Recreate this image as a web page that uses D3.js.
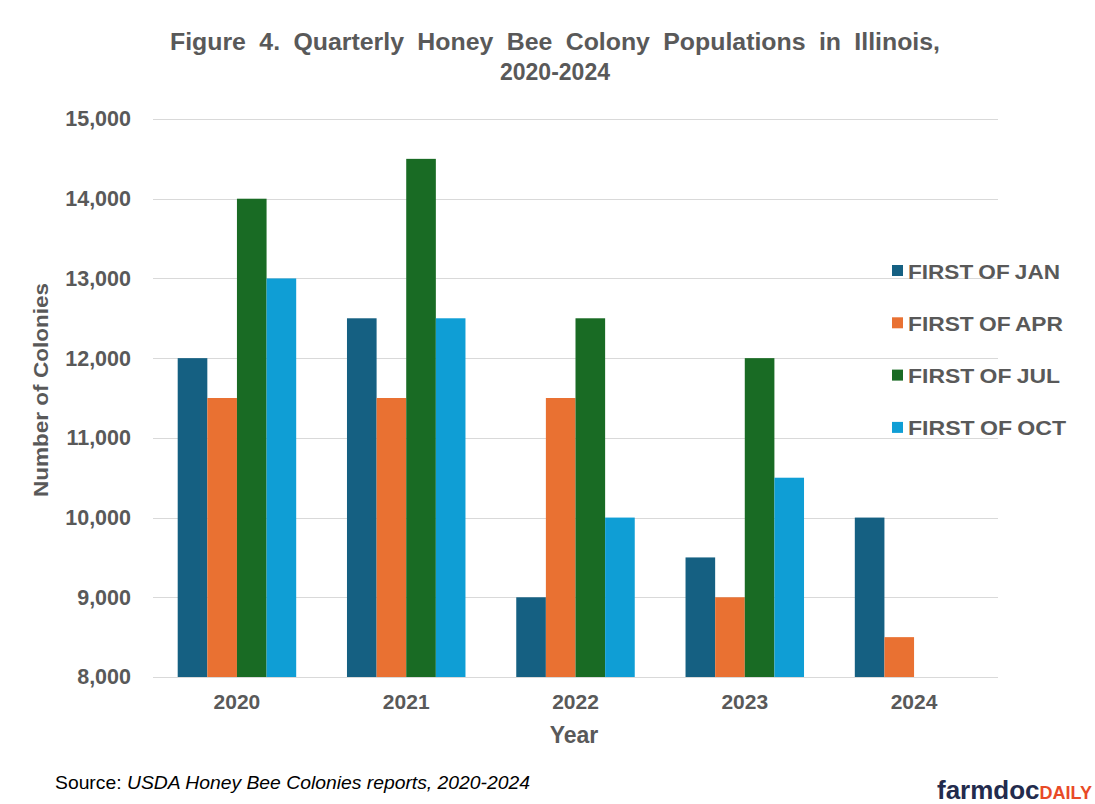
<!DOCTYPE html>
<html lang="en">
<head>
<meta charset="utf-8">
<title>Honey Bee Colonies</title>
<script src="https://cdn.jsdelivr.net/npm/d3@7"></script>
<style>
  body { margin: 0; background: #fff; }
  .grid line { stroke: #d9d9d9; stroke-width: 1; shape-rendering: crispEdges; }
  .grid path { display: none; }
  text { fill: #595959; }
</style>
</head>
<body>
<script>
  // data
  var years = ["2020", "2021", "2022", "2023", "2024"];
  var seriesNames = ["FIRST OF JAN", "FIRST OF APR", "FIRST OF JUL", "FIRST OF OCT"];
  var jan = [12000, 12500, 9000, 9500, 10000];
  var apr = [11500, 11500, 11500, 9000, 8500];
  var jul = [14000, 14500, 12500, 12000, null];
  var oct = [13000, 12500, 10000, 10500, null];
  var yTicks = [8000, 9000, 10000, 11000, 12000, 13000, 14000, 15000];
  var colors = ["#156082", "#E97132", "#196B24", "#0F9ED5"];

  var width = 1095, height = 804;
  var margin = { left: 153, right: 97, top: 119, bottom: 127 };

  var svg = d3.select("body").append("svg")
      .attr("width", width)
      .attr("height", height);

  var x0 = d3.scaleBand()
      .domain(years)
      .range([margin.left + 1, width - margin.right - 1])
      .paddingInner(0.3)
      .paddingOuter(0.14);

  var x1 = d3.scaleBand()
      .domain(seriesNames)
      .range([0, x0.bandwidth()]);

  var y = d3.scaleLinear()
      .domain([8000, 15000])
      .range([height - margin.bottom, margin.top]);

  // gridlines
  svg.append("g")
      .attr("class", "grid")
      .attr("transform", "translate(" + margin.left + ",0)")
      .call(d3.axisLeft(y).tickValues(yTicks).tickSize(-(width - margin.left - margin.right)).tickFormat(""));

  // bars
  var allSeries = [jan, apr, jul, oct];
  var rows = [];
  years.forEach(function (yr, i) {
    allSeries.forEach(function (s, j) {
      if (s[i] != null) rows.push({ year: yr, name: seriesNames[j], value: s[i], k: j });
    });
  });

  svg.append("g").selectAll("rect")
      .data(rows)
      .enter().append("rect")
      .attr("x", function (d) { return x0(d.year) + x1(d.name); })
      .attr("y", function (d) { return y(d.value); })
      .attr("width", x1.bandwidth())
      .attr("height", function (d) { return y(8000) - y(d.value); })
      .attr("fill", function (d) { return colors[d.k]; });

  // y axis labels
  var yAxis = svg.append("g")
      .attr("transform", "translate(" + (margin.left - 19) + ",0)")
      .call(d3.axisLeft(y).tickValues(yTicks).tickSize(0).tickFormat(d3.format(",")));
  yAxis.select(".domain").remove();
  yAxis.selectAll("text")
      .style("font-family", "Liberation Sans, Arial, sans-serif")
      .style("font-weight", "bold")
      .style("font-size", "21.5px")
      .style("fill", "#595959");

  // x axis labels
  var xAxis = svg.append("g")
      .attr("transform", "translate(0," + (height - margin.bottom) + ")")
      .call(d3.axisBottom(x0).tickSize(0).tickPadding(17));
  xAxis.select(".domain").remove();
  xAxis.selectAll("text")
      .style("font-family", "Liberation Sans, Arial, sans-serif")
      .style("font-weight", "bold")
      .style("font-size", "21px")
      .style("fill", "#595959");

  // axis titles
  svg.append("text")
      .attr("x", 574)
      .attr("y", 743)
      .attr("text-anchor", "middle")
      .style("font-family", "Liberation Sans, Arial, sans-serif")
      .style("font-weight", "bold")
      .style("font-size", "23px")
      .text("Year");

  svg.append("text")
      .attr("transform", "translate(48,390) rotate(-90)")
      .attr("text-anchor", "middle")
      .attr("textLength", 214)
      .attr("lengthAdjust", "spacingAndGlyphs")
      .style("font-family", "Liberation Sans, Arial, sans-serif")
      .style("font-weight", "bold")
      .style("font-size", "21px")
      .text("Number of Colonies");

  // title
  var title = svg.append("text")
      .attr("text-anchor", "middle")
      .style("font-family", "Liberation Sans, Arial, sans-serif")
      .style("font-weight", "bold")
      .style("font-size", "23px");
  title.append("tspan").attr("x", 555).attr("y", 50)
      .attr("textLength", 770)
      .attr("lengthAdjust", "spacingAndGlyphs")
      .style("word-spacing", "6px")
      .text("Figure 4. Quarterly Honey Bee Colony Populations in Illinois,");
  title.append("tspan").attr("x", 555).attr("y", 80)
      .text("2020-2024");

  // legend
  var legendLen = [152, 155, 152, 158];
  var legend = svg.append("g").selectAll("g")
      .data(seriesNames)
      .enter().append("g")
      .attr("transform", function (d, i) { return "translate(892," + (271 + i * 52.3) + ")"; });
  legend.append("rect")
      .attr("x", 0).attr("y", -6)
      .attr("width", 11).attr("height", 11)
      .attr("fill", function (d, i) { return colors[i]; });
  legend.append("text")
      .attr("x", 16).attr("y", 7.5)
      .attr("textLength", function (d, i) { return legendLen[i]; })
      .attr("lengthAdjust", "spacingAndGlyphs")
      .style("font-family", "Liberation Sans, Arial, sans-serif")
      .style("font-weight", "bold")
      .style("font-size", "20.5px")
      .style("word-spacing", "-1px")
      .text(function (d) { return d; });

  // source
  var src = svg.append("text")
      .attr("x", 55).attr("y", 789)
      .attr("textLength", 475)
      .attr("lengthAdjust", "spacingAndGlyphs")
      .style("font-family", "Liberation Sans, Arial, sans-serif")
      .style("font-size", "19px")
      .style("fill", "#000");
  src.append("tspan").text("Source:  ");
  src.append("tspan").style("font-style", "italic").text("USDA Honey Bee Colonies reports,  2020-2024");

  // logo
  var logo = svg.append("text")
      .attr("x", 937).attr("y", 799)
      .style("font-family", "Liberation Sans, Arial, sans-serif")
      .style("font-weight", "bold");
  logo.append("tspan").style("font-size", "26px").style("fill", "#232b4d").text("farmdoc");
  logo.append("tspan").style("font-size", "18px").style("fill", "#e84a27").text("DAILY");
</script>
</body>
</html>
